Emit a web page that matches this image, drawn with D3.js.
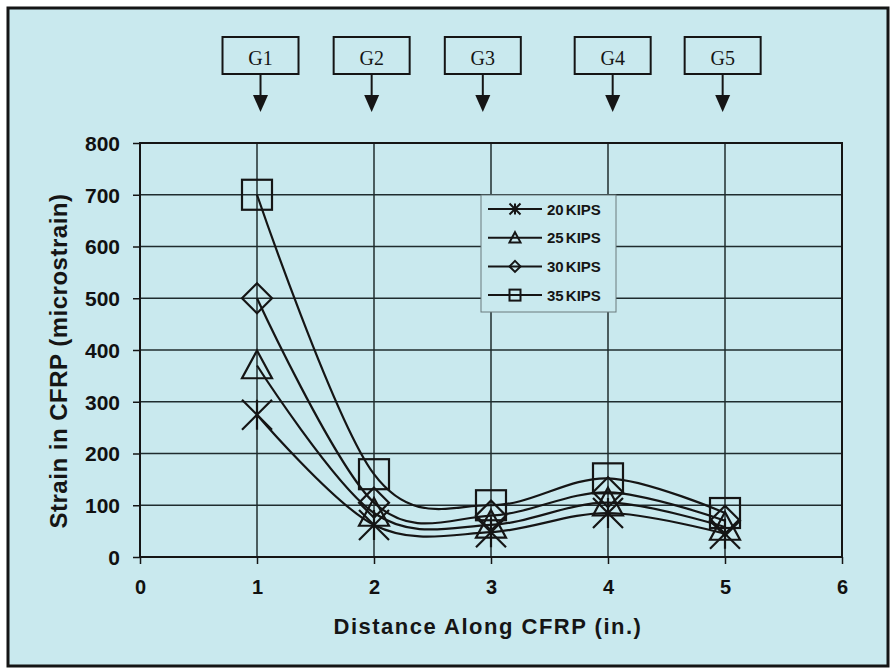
<!DOCTYPE html>
<html>
<head>
<meta charset="utf-8">
<script src="https://cdn.jsdelivr.net/npm/d3@7"></script>
<style>
  body { margin: 0; background: #fff; }
  svg { display: block; }
  .tick text { font-family: "Liberation Sans", Arial, sans-serif; font-weight: bold; fill: #111; }
</style>
</head>
<body>
<div id="chart"></div>
<script>
// distance along the CFRP (in.) where the gauges sit
const distance = [1, 2, 3, 4, 5]
const kips20 = [275, 62, 48, 85, 45]
const kips25 = [370, 85, 62, 105, 58]
const kips30 = [500, 105, 80, 125, 70]
const kips35 = [700, 160, 100, 152, 85]
const seriesNames = ['20 KIPS', '25 KIPS', '30 KIPS', '35 KIPS']
const xTicks = [0, 1, 2, 3, 4, 5, 6]
const yTicks = [0, 100, 200, 300, 400, 500, 600, 700, 800]
const gaugeNames = ['G1', 'G2', 'G3', 'G4', 'G5']
const gaugePos = [1.03, 1.98, 2.93, 4.04, 4.98]

const w = 895
const h = 669
const bg = '#c9e9ee'
const ink = '#151515'

const x = d3.scaleLinear().domain([0, 6]).range([140, 842])
const y = d3.scaleLinear().domain([0, 800]).range([557, 143])

const svg = d3.select('#chart').append('svg').attr('width', w).attr('height', h)

// outer frame
svg.append('rect')
   .attr('x', 8).attr('y', 8).attr('width', 880).attr('height', 658)
   .attr('fill', bg).attr('stroke', ink).attr('stroke-width', 3)

// gridlines
svg.append('g')
   .selectAll('line.hg')
   .data(yTicks.slice(1, -1))
   .enter().append('line')
   .attr('x1', x(0)).attr('x2', x(6))
   .attr('y1', d => y(d)).attr('y2', d => y(d))
   .attr('stroke', '#1f2c2e').attr('stroke-width', 1.5)

svg.append('g')
   .selectAll('line.vg')
   .data(xTicks.slice(1, -1))
   .enter().append('line')
   .attr('y1', y(0)).attr('y2', y(800))
   .attr('x1', d => x(d)).attr('x2', d => x(d))
   .attr('stroke', '#1f2c2e').attr('stroke-width', 1.5)

const xA = d3.axisBottom(x).tickValues(xTicks).tickFormat(d3.format('d')).tickSize(7).tickPadding(16).tickSizeOuter(0)
const yA = d3.axisLeft(y).tickValues(yTicks).tickFormat(d3.format('d')).tickSize(7).tickPadding(13).tickSizeOuter(0)

const gx = svg.append('g').attr('transform', 'translate(0,' + y(0) + ')').call(xA)
const gy = svg.append('g').attr('transform', 'translate(' + x(0) + ',0)').call(yA)
gx.select('.domain').remove()
gy.select('.domain').remove()
gx.selectAll('.tick line').attr('stroke', ink).attr('stroke-width', 1.5)
gy.selectAll('.tick line').attr('stroke', ink).attr('stroke-width', 1.5)
gx.selectAll('.tick text').style('font-size', '20px')
gy.selectAll('.tick text').style('font-size', '21px').attr('dy', '0.35em')

// plot border
svg.append('rect')
   .attr('x', x(0)).attr('y', y(800))
   .attr('width', x(6) - x(0)).attr('height', y(0) - y(800))
   .attr('fill', 'none').attr('stroke', ink).attr('stroke-width', 2)

// axis titles
svg.append('text')
   .attr('x', 488).attr('y', 634)
   .attr('text-anchor', 'middle')
   .style('font-family', '"Liberation Sans", Arial, sans-serif')
   .style('font-weight', 'bold').style('font-size', '22px')
   .style('letter-spacing', '1.5px')
   .attr('fill', ink)
   .text('Distance Along CFRP (in.)')

svg.append('text')
   .attr('transform', 'translate(67,361) rotate(-90)')
   .attr('text-anchor', 'middle')
   .style('font-family', '"Liberation Sans", Arial, sans-serif')
   .style('font-weight', 'bold').style('font-size', '24px')
   .style('letter-spacing', '0.5px')
   .attr('fill', ink)
   .text('Strain in CFRP (microstrain)')

// markers
const marker = function(sel, kind, s) {
  if (kind === 0) {
    sel.append('path').attr('d', `M${-s},${-s}L${s},${s}M${-s},${s}L${s},${-s}M0,${-s}L0,${s}`)
  } else if (kind === 1) {
    sel.append('path').attr('d', `M0,${-s}L${s},${s * 0.85}L${-s},${s * 0.85}Z`)
  } else if (kind === 2) {
    sel.append('path').attr('d', `M0,${-s}L${s},0L0,${s}L${-s},0Z`)
  } else {
    sel.append('rect').attr('x', -s).attr('y', -s).attr('width', 2 * s).attr('height', 2 * s)
  }
}

const allSeries = [kips20, kips25, kips30, kips35]
const line = d3.line()
               .x((d, i) => x(distance[i]))
               .y(d => y(d))
               .curve(d3.curveCatmullRom.alpha(0))

allSeries.forEach((vals, k) => {
  svg.append('path')
     .attr('d', line(vals))
     .attr('fill', 'none').attr('stroke', ink).attr('stroke-width', 2.2)
  vals.forEach((v, i) => {
    const g = svg.append('g')
                 .attr('transform', 'translate(' + x(distance[i]) + ',' + y(v) + ')')
                 .attr('fill', 'none').attr('stroke', ink).attr('stroke-width', 2.2)
    marker(g, k, 15)
  })
})

// legend
const lg = svg.append('g')
lg.append('rect')
  .attr('x', 481).attr('y', 195).attr('width', 135).attr('height', 117)
  .attr('fill', bg).attr('stroke', '#6a7a7c').attr('stroke-width', 1)
seriesNames.forEach((name, k) => {
  const cy = 209 + k * 28.7
  lg.append('line')
    .attr('x1', 488).attr('x2', 542).attr('y1', cy).attr('y2', cy)
    .attr('stroke', ink).attr('stroke-width', 2)
  const g = lg.append('g')
              .attr('transform', 'translate(515,' + cy + ')')
              .attr('fill', 'none').attr('stroke', ink).attr('stroke-width', 2)
  marker(g, k, 5.5)
  lg.append('text')
    .attr('x', 547).attr('y', cy + 5.5)
    .style('font-family', '"Liberation Sans", Arial, sans-serif')
    .style('font-weight', 'bold').style('font-size', '15px')
    .style('word-spacing', '-2px')
    .attr('fill', ink)
    .text(name)
})

// gauge boxes with arrows
const gg = svg.append('g')
           .selectAll('g')
           .data(gaugeNames)
           .enter().append('g')
           .attr('transform', (d, i) => 'translate(' + x(gaugePos[i]) + ',0)')
gg.append('rect')
  .attr('x', -38).attr('y', 37).attr('width', 76).attr('height', 37)
  .attr('fill', bg).attr('stroke', ink).attr('stroke-width', 2)
gg.append('text')
  .attr('y', 65).attr('text-anchor', 'middle')
  .style('font-family', '"Liberation Serif", "Times New Roman", serif')
  .style('font-size', '20px')
  .attr('fill', ink)
  .text(d => d)
gg.append('line')
  .attr('x1', 0).attr('x2', 0).attr('y1', 74).attr('y2', 97)
  .attr('stroke', ink).attr('stroke-width', 2)
gg.append('path')
  .attr('d', 'M-7.5,95L7.5,95L0,112Z')
  .attr('fill', ink)
</script>
</body>
</html>
